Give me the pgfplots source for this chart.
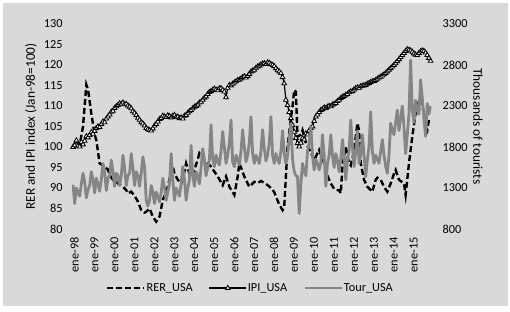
\documentclass[border=0pt]{standalone}
\usepackage{pgfplots}
\pgfplotsset{compat=1.18}
\usepackage{fontspec}
\setmainfont{Carlito}
\definecolor{bg}{HTML}{D9D9D9}
\definecolor{tourgray}{HTML}{858585}
\pgfplotsset{
  base/.style={
    at={(72.2pt,82pt)}, anchor=south west, scale only axis,
    width=359.2pt, height=205pt, xmin=-0.5, xmax=215.5,
    axis line style={draw=none}, major tick length=0pt,
    tick label style={font=\fontsize{12.3}{14}\selectfont},
    label style={font=\fontsize{13.3}{15}\selectfont},
    /pgf/number format/assume math mode=true,
    /pgf/number format/1000 sep={}, scaled ticks=false,
  },
  ipi/.style={black, line width=1.2pt, mark=triangle*, mark size=2.7pt, mark options={fill=white, draw=black, line width=0.85pt, solid}},
}
\begin{document}
\begin{tikzpicture}
\fill[white] (0pt,0pt) rectangle (510pt,311pt);
\fill[bg] (3pt,5pt) rectangle (508pt,308pt);
\begin{axis}[base,
  ymin=80, ymax=130, ytick={80,85,...,130},
  xtick={0,12,...,204},
  xticklabels={ene-98,ene-99,ene-00,ene-01,ene-02,ene-03,ene-04,ene-05,ene-06,ene-07,ene-08,ene-09,ene-10,ene-11,ene-12,ene-13,ene-14,ene-15},
  xticklabel style={yshift=-8pt, xshift=1.5pt, rotate=90, anchor=east, inner sep=0pt},
  yticklabel style={inner sep=0pt, xshift=-9.5pt},
  ylabel={RER and IPI index (Jan-98=100)},
  ylabel style={at={(axis description cs:-0.1147,0.5)}, anchor=center},
]
\addplot[black, line width=2.4pt, dash pattern=on 6pt off 3pt] coordinates {
(0,100)(2,101.7)(4,100.5)(6,105)(8,115.2)(9,114)(11,108.2)(13,103)(14,101.7)(16,96)(18,95.5)(19,95.2)(21,94.5)(22,93.2)(24,92)(26,91.5)(27,91.1)(30,90.3)(32,89.5)(33,88.7)(35,89.1)(37,88.1)(39,86.7)(41,84.6)(43,84)(44,84.2)(46,85)(48,83)(50,81.8)(52,83)(54,87.1)(56,89)(57,90.3)(59,94)(60,95.2)(61,93.5)(63,92)(65,91.1)(67,94)(68,96)(70,93.5)(71,92.8)(73,94.4)(75,97)(76,98.5)(78,97.5)(79,96.8)(81,96)(83,95.2)(85,94)(87,92.8)(90,90.7)(92,92.8)(94,90.3)(96,89)(97,88.3)(99,92.8)(100,96)(101,95)(103,92.8)(106,90.3)(109,91.5)(111,91.2)(113,91.7)(115,91.3)(117,90.7)(119,90)(121,89)(122,87.9)(124,86)(126,84.6)(127,85.5)(129,100.1)(131,107)(132,109.8)(133,113.9)(134,113.5)(135,102.5)(137,103)(138,104.1)(140,100.9)(142,99.5)(145,96.8)(147,98.5)(148,99.3)(151,96)(153,93)(155,91.1)(157,89.8)(158,89.5)(160,89.5)(161,88.7)(162,95.2)(164,100.1)(166,96)(167,95.5)(169,99)(170,102.5)(171,105.8)(172,104)(173,96)(175,92)(177,90.3)(180,89.1)(182,92)(183,92.5)(185,92)(187,90.3)(189,89.1)(191,91.1)(193,93.5)(194,94.4)(196,92)(199,91.1)(200,88.3)(202,96)(204,102.5)(206,108.2)(208,111.5)(210,111)(211,107.4)(212,105)(213,104.1)(214,106.6)(215,107)
};
\addplot[ipi] coordinates {
(0,100.0)(1,100.4)(2,101.6)(3,100.3)(4,100.1)(5,101.2)(6,100.6)(7,101.5)(8,102.6)(9,102.3)(10,102.9)(11,103.6)
(12,103.2)(13,103.9)(14,104.6)(15,105.0)(16,104.8)(17,105.6)(18,106.2)(19,106.0)(20,106.9)(21,107.4)(22,107.9)(23,108.6)
(24,108.8)(25,109.5)(26,109.9)(27,110.2)(28,110.6)(29,110.5)(30,110.8)(31,110.4)(32,110.5)(33,110.1)(34,109.8)(35,109.4)
(36,108.7)(37,108.3)(38,107.8)(39,107.1)(40,106.6)(41,106.0)(42,105.7)(43,105.2)(44,104.6)(45,104.3)(46,104.1)(47,104.0)
(48,104.5)(49,105.2)(50,105.6)(51,106.2)(52,106.8)(53,107.0)(54,107.6)(55,107.4)(56,107.3)(57,107.7)(58,107.5)(59,107.2)
(60,107.6)(61,107.8)(62,107.3)(63,107.4)(64,107.0)(65,107.2)(66,106.9)(67,107.6)(68,107.8)(69,108.3)(70,108.7)(71,109.0)
(72,109.4)(73,109.8)(74,110.0)(75,110.3)(76,110.8)(77,111.0)(78,111.5)(79,112.0)(80,112.3)(81,112.9)(82,113.4)(83,113.6)
(84,113.9)(85,114.2)(86,114.0)(87,113.8)(88,114.3)(89,114.3)(90,113.9)(91,113.5)(92,112.1)(93,114.4)(94,115.1)(95,115.0)
(96,115.4)(97,115.7)(98,116.0)(99,116.3)(100,116.4)(101,116.7)(102,117.0)(103,117.2)(104,116.9)(105,117.3)(106,117.8)(107,118.4)
(108,118.6)(109,118.8)(110,119.3)(111,119.6)(112,119.8)(113,120.1)(114,120.3)(115,120.4)(116,120.2)(117,120.6)(118,120.5)(119,120.2)
(120,120.0)(121,119.7)(122,119.2)(123,118.7)(124,118.4)(125,118.0)(126,117.0)(127,115.5)(128,111.5)(129,110.2)(130,108.5)(131,107.0)
(132,105.3)(133,103.7)(134,102.2)(135,100.9)(136,100.1)(137,101.0)(138,102.1)(139,101.8)(140,103.3)(141,103.0)(142,104.0)(143,104.6)
(144,105.0)(145,106.3)(146,107.4)(147,107.9)(148,108.5)(149,109.0)(150,109.2)(151,109.6)(152,109.5)(153,109.8)(154,110.0)(155,109.9)
(156,110.3)(157,110.5)(158,110.7)(159,111.2)(160,111.5)(161,111.9)(162,112.2)(163,112.4)(164,112.7)(165,112.9)(166,113.3)(167,113.5)
(168,113.6)(169,114.0)(170,114.3)(171,114.5)(172,114.4)(173,114.8)(174,114.9)(175,115.0)(176,115.1)(177,115.4)(178,115.6)(179,115.8)
(180,116.0)(181,116.1)(182,116.3)(183,116.6)(184,116.9)(185,117.1)(186,117.4)(187,117.7)(188,118.0)(189,118.4)(190,118.8)(191,119.2)
(192,119.6)(193,120.0)(194,120.4)(195,120.9)(196,121.4)(197,121.9)(198,122.4)(199,122.9)(200,123.4)(201,123.8)(202,123.7)(203,123.5)
(204,123.2)(205,122.8)(206,122.5)(207,122.4)(208,122.9)(209,123.3)(210,123.5)(211,123.4)(212,123.0)(213,122.4)(214,121.7)(215,121.0)
};
\end{axis}
\begin{axis}[base,
  ymin=800, ymax=3300, ytick={800,1300,...,3300},
  xtick=\empty, yticklabel pos=right,
  yticklabel style={anchor=west, inner sep=0pt, xshift=11pt},
  ylabel={Thousands of tourists},
  ylabel style={at={(axis description cs:1.1297,0.5)}, anchor=center, rotate=180},
  legend columns=3,
  legend style={at={(0.495,-0.288)}, anchor=center, draw=none, fill=none,
    font=\fontsize{12.3}{14}\selectfont, nodes={inner sep=1pt},
    /tikz/every even column/.append style={column sep=15pt}},
  legend cell align=left,
  legend image code/.code={\draw[mark repeat=2,mark phase=2,#1] plot coordinates {(0pt,0pt) (18.5pt,0pt) (37pt,0pt)};},
]
\addlegendimage{black, line width=2.4pt, dash pattern=on 6pt off 3pt}
\addlegendentry{RER\_USA}
\addlegendimage{ipi}
\addlegendentry{IPI\_USA}
\addplot[tourgray, line width=2.8pt, line join=round] coordinates {
(0,1340)(1,1110)(2,1300)(3,1250)(4,1200)(5,1350)(6,1480)(7,1380)(8,1180)(9,1280)(10,1330)(11,1500)
(12,1400)(13,1240)(14,1420)(15,1350)(16,1260)(17,1400)(18,1600)(19,1500)(20,1270)(21,1420)(22,1450)(23,1640)
(24,1500)(25,1320)(26,1480)(27,1450)(28,1330)(29,1450)(30,1700)(31,1550)(32,1330)(33,1450)(34,1480)(35,1720)
(36,1550)(37,1330)(38,1500)(39,1450)(40,1320)(41,1480)(42,1680)(43,1560)(44,1150)(45,1080)(46,1150)(47,1330)
(48,1250)(49,1110)(50,1250)(51,1200)(52,1130)(53,1250)(54,1420)(55,1300)(56,1150)(57,1250)(58,1350)(59,1720)
(60,1400)(61,1150)(62,1300)(63,1250)(64,1200)(65,1350)(66,1560)(67,1400)(68,1150)(69,1300)(70,1400)(71,1820)
(72,1450)(73,1320)(74,1500)(75,1450)(76,1350)(77,1550)(78,1780)(79,1640)(80,1450)(81,1550)(82,1650)(83,2070)
(84,1650)(85,1560)(86,1700)(87,1620)(88,1580)(89,1750)(90,1990)(91,1800)(92,1600)(93,1700)(94,1850)(95,2130)
(96,1620)(97,1560)(98,1700)(99,1650)(100,1580)(101,1750)(102,2010)(103,1800)(104,1620)(105,1700)(106,1850)(107,2170)
(108,1720)(109,1600)(110,1700)(111,1650)(112,1600)(113,1750)(114,2010)(115,1780)(116,1630)(117,1700)(118,1850)(119,2170)
(120,1700)(121,1600)(122,1720)(123,1650)(124,1600)(125,1750)(126,2000)(127,1720)(128,1600)(129,1700)(130,1900)(131,2090)
(132,1650)(133,1500)(134,1450)(135,1440)(136,990)(137,1350)(138,1600)(139,1500)(140,1450)(141,1750)(142,1850)(143,2050)
(144,1700)(145,1520)(146,1650)(147,1600)(148,1520)(149,1600)(150,1950)(151,1700)(152,1320)(153,1600)(154,1700)(155,1950)
(156,1700)(157,1550)(158,1720)(159,1640)(160,1500)(161,1650)(162,1890)(163,1700)(164,1400)(165,1650)(166,1750)(167,2130)
(168,1800)(169,1560)(170,1750)(171,2000)(172,1600)(173,1700)(174,1950)(175,1700)(176,1440)(177,1650)(178,1800)(179,2230)
(180,1750)(181,1600)(182,1700)(183,1650)(184,1600)(185,1750)(186,1890)(187,1700)(188,1560)(189,1480)(190,1700)(191,2090)
(192,2000)(193,1950)(194,2100)(195,2250)(196,2000)(197,2150)(198,2300)(199,2050)(200,1720)(201,1950)(202,2200)(203,2860)
(204,2250)(205,2100)(206,2370)(207,2250)(208,2200)(209,2620)(210,2400)(211,2150)(212,1930)(213,2330)(214,2200)(215,2300)
};
\addlegendentry{Tour\_USA}
\end{axis}
\end{tikzpicture}
\end{document}
